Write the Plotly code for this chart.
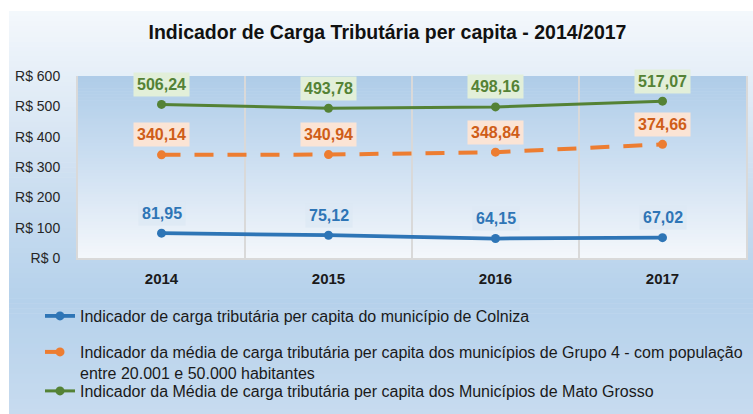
import plotly.graph_objects as go

# ---- data -------------------------------------------------------------
years = ["2014", "2015", "2016", "2017"]
colniza = [81.95, 75.12, 64.15, 67.02]
grupo4 = [340.14, 340.94, 348.84, 374.66]
mato_grosso = [506.24, 493.78, 498.16, 517.07]

series_names = [
    "Indicador de carga tributária per capita do município de Colniza",
    "Indicador da média de carga tributária per capita dos municípios de Grupo 4 - com população<br>entre 20.001 e 50.000 habitantes",
    "Indicador da Média de carga tributária per capita dos Municípios de Mato Grosso",
]
y_ticks = [0, 100, 200, 300, 400, 500, 600]

FONT = "Arial, Liberation Sans, sans-serif"

# ---- page geometry ----------------------------------------------------
W, H = 753, 414
ML, MR, MT, MB = 78, 7, 76, 156
PW, PH = W - ML - MR, H - MT - MB


def px_to_paper_x(px):
    return (px - ML) / PW


def px_to_paper_y(py):
    return (H - MB - py) / PH


def hex_to_rgb(h):
    h = h.lstrip("#")
    return tuple(int(h[i:i + 2], 16) for i in (0, 2, 4))


def interp_color(stops, t):
    # stops: list of (position 0..1, hex colour)
    for (p0, c0), (p1, c1) in zip(stops, stops[1:]):
        if p0 <= t <= p1:
            f = 0 if p1 == p0 else (t - p0) / (p1 - p0)
            a, b = hex_to_rgb(c0), hex_to_rgb(c1)
            r = [round(a[i] + (b[i] - a[i]) * f) for i in range(3)]
            return "rgb({},{},{})".format(*r)
    return stops[-1][1]


def gradient_shapes(x0, x1, y0, y1, stops, n=60):
    """Vertical gradient made of thin stacked rectangles (pixel coords)."""
    shapes = []
    step = (y1 - y0) / n
    for i in range(n):
        ya = y0 + i * step
        yb = ya + step + 0.6
        col = interp_color(stops, (i + 0.5) / n)
        shapes.append(dict(
            type="rect", xref="paper", yref="paper", layer="below",
            x0=px_to_paper_x(x0), x1=px_to_paper_x(x1),
            y0=px_to_paper_y(yb), y1=px_to_paper_y(ya),
            line=dict(width=0), fillcolor=col,
        ))
    return shapes


shapes = []
# chart area background
shapes += gradient_shapes(9, 760, 11, 414, [
    (0.0, "#f4f8fc"), (0.15, "#e6eff8"), (0.4, "#cfe0f1"),
    (0.72, "#b5d1eb"), (1.0, "#c7dbef")], n=80)
# plot area background
shapes += gradient_shapes(ML, ML + PW, MT, MT + PH, [
    (0.0, "#aecce8"), (0.45, "#cbdef1"), (1.0, "#f4f7fb")], n=60)

# ---- traces -----------------------------------------------------------
blue, orange, green = "#2e75b6", "#ed7d31", "#548235"

fig = go.Figure()
fig.add_trace(go.Scatter(
    x=years, y=colniza, name=series_names[0], mode="lines+markers",
    line=dict(color=blue, width=3.8), marker=dict(size=9, color=blue),
    legend="legend", hoverinfo="skip"))
fig.add_trace(go.Scatter(
    x=years, y=grupo4, name=series_names[1], mode="lines+markers",
    line=dict(color=orange, width=4, dash="19px,14px"),
    marker=dict(size=9, color=orange),
    legend="legend2", hoverinfo="skip"))
fig.add_trace(go.Scatter(
    x=years, y=mato_grosso, name=series_names[2], mode="lines+markers",
    line=dict(color=green, width=3), marker=dict(size=9, color=green),
    legend="legend3", hoverinfo="skip"))

# ---- value labels -----------------------------------------------------
def fmt(v):
    return f"{v:.2f}".replace(".", ",")


annotations = []
label_styles = [
    (colniza, "#2e75b6", "rgba(221,233,245,0.85)"),
    (grupo4, "#cf5d18", "#fbe4d5"),
    (mato_grosso, "#548235", "#e2efd9"),
]
for values, tcol, bcol in label_styles:
    for idx, v in enumerate(values):
        # category axes place annotations by category index
        annotations.append(dict(
            x=idx, y=v, xref="x", yref="y", text="<b>" + fmt(v) + "</b>",
            showarrow=False, yanchor="middle", yshift=20,
            bgcolor=bcol, borderpad=3,
            font=dict(family=FONT, size=16, color=tcol)))


def legend_box(top_px):
    return dict(
        orientation="v", x=px_to_paper_x(40), xanchor="left",
        y=px_to_paper_y(top_px), yanchor="top", yref="paper",
        bgcolor="rgba(0,0,0,0)", valign="top", itemwidth=30,
        font=dict(family=FONT, size=16, color="#1a1a1a"))


fig.update_layout(
    width=W, height=H,
    margin=dict(l=ML, r=MR, t=MT, b=MB, autoexpand=False),
    paper_bgcolor="white",
    plot_bgcolor="rgba(0,0,0,0)",
    shapes=shapes,
    annotations=annotations,
    title=dict(
        text="<b>Indicador de Carga Tributária per capita - 2014/2017</b>",
        x=387.5 / W, xref="container", xanchor="center",
        y=1 - 32 / H, yref="container", yanchor="middle",
        font=dict(family=FONT, size=19.5, color="#111111")),
    xaxis=dict(
        type="category", tickson="boundaries", showgrid=True,
        gridcolor="#d9d9d9", gridwidth=1.5, ticks="", ticklabelstandoff=6,
        showline=True, linecolor="#d9d9d9", linewidth=2, mirror=False,
        range=[-0.5, 3.5], zeroline=False,
        tickfont=dict(family=FONT, size=15, color="#1a1a1a", weight="bold")),
    yaxis=dict(
        range=[0, 600], tickvals=y_ticks,
        ticktext=[f"R$ {t}" for t in y_ticks],
        showgrid=False, zeroline=False, ticks="", ticklabelstandoff=13,
        showline=True, linecolor="#d9d9d9", linewidth=2, mirror=True,
        tickfont=dict(family=FONT, size=14, color="#262626")),
    showlegend=True,
    legend=legend_box(299),
    legend2=legend_box(335),
    legend3=legend_box(374),
    hovermode=False,
)

fig.write_html("out.html")
